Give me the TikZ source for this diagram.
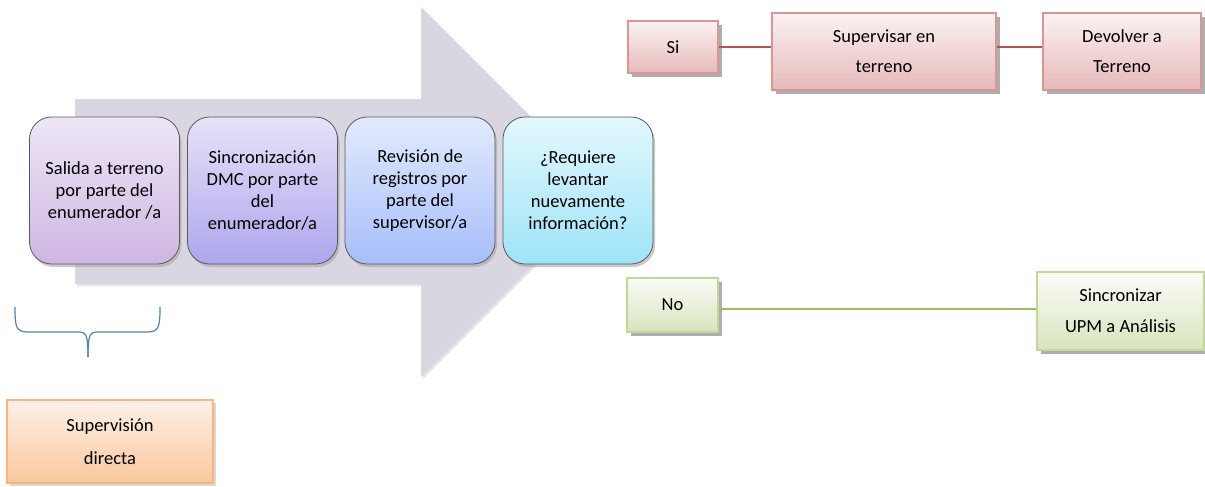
\documentclass[tikz,border=0pt]{standalone}
\usepackage{fontspec}
\setmainfont{Carlito}
\usetikzlibrary{shadows}
\definecolor{arrowgrey}{HTML}{D9D6E2}
\definecolor{redln}{HTML}{C0504D}
\definecolor{greenln}{HTML}{9BBB59}
\definecolor{bluebr}{HTML}{4F81BD}
\definecolor{aTop}{HTML}{EEE6F6}\definecolor{aBot}{HTML}{CDB6E2}
\definecolor{bTop}{HTML}{E6E2F8}\definecolor{bBot}{HTML}{ADA6EC}
\definecolor{cTop}{HTML}{E2EAFC}\definecolor{cBot}{HTML}{A6BEFA}
\definecolor{dTop}{HTML}{E2F8FC}\definecolor{dBot}{HTML}{9EE4F8}
\definecolor{rDraw}{HTML}{D99694}\definecolor{rTop}{HTML}{FBF2F2}\definecolor{rBot}{HTML}{E6B9B8}
\definecolor{gDraw}{HTML}{C3D69B}\definecolor{gTop}{HTML}{FBFCF8}\definecolor{gBot}{HTML}{D7E4BD}
\definecolor{oDraw}{HTML}{F9B47C}\definecolor{oTop}{HTML}{FDF1E8}\definecolor{oBot}{HTML}{FAC79C}
\begin{document}
\begin{tikzpicture}[x=1pt,y=-1pt,
  font=\fontsize{18.5}{22}\selectfont,
  stepbox/.style={draw=black!65, line width=0.8pt, rounded corners=22pt, minimum width=150pt, minimum height=147pt, align=center,
    drop shadow={shadow xshift=2pt, shadow yshift=-3pt, fill=black!35, opacity=0.6}},
  redbox/.style={draw=rDraw, line width=1.5pt, top color=rTop, bottom color=rBot, align=center,
    drop shadow={shadow xshift=4pt, shadow yshift=-4pt, fill=black!45, opacity=0.7}, font=\fontsize{18.5}{30}\selectfont},
  greenbox/.style={draw=gDraw, line width=1.5pt, top color=gTop, bottom color=gBot, align=center,
    drop shadow={shadow xshift=4pt, shadow yshift=-4pt, fill=black!45, opacity=0.7}, font=\fontsize{18.5}{31}\selectfont},
  orangebox/.style={draw=oDraw, line width=1.8pt, top color=oTop, bottom color=oBot, align=center,
    drop shadow={shadow xshift=3pt, shadow yshift=-3pt, fill=black!25, opacity=0.6}, font=\fontsize{18.5}{33}\selectfont}
]
\useasboundingbox (0,0) rectangle (1205,487);
% big arrow
\fill[arrowgrey, drop shadow={shadow xshift=2pt, shadow yshift=-2pt, fill=black!20, opacity=0.5}]
  (75,99) -- (421,99) -- (421,7) -- (606,192) -- (421,377) -- (421,284) -- (75,284) -- cycle;
% step boxes
\node[stepbox, top color=aTop, bottom color=aBot] (s1) at (104.5,190.5)
  {Salida a terreno\\por parte del\\enumerador /a};
\node[stepbox, top color=bTop, bottom color=bBot] (s2) at (262.5,190.5)
  {Sincronización\\DMC por parte\\del\\enumerador/a};
\node[stepbox, top color=cTop, bottom color=cBot] (s3) at (420,190.5)
  {Revisión de\\registros por\\parte del\\supervisor/a};
\node[stepbox, top color=dTop, bottom color=dBot] (s4) at (578,190.5)
  {¿Requiere\\levantar\\nuevamente\\información?};
% Si branch
\node[redbox, minimum width=90pt, minimum height=52pt] (si) at (673,47) {Si};
\node[redbox, minimum width=224pt, minimum height=77pt] (sup) at (884,51.5) {Supervisar en\\terreno};
\node[redbox, minimum width=158pt, minimum height=77pt] (dev) at (1122,51.5) {Devolver a\\Terreno};
\draw[redln, line width=2.5pt] (si.east) -- (sup.west|-si.east);
\draw[redln, line width=2.5pt] (sup.east|-0,47) coordinate (r1) -- (dev.west|-0,47) coordinate (r2);
% No branch
\node[greenbox, minimum width=91pt, minimum height=54pt] (no) at (672.5,305) {No};
\node[greenbox, minimum width=167pt, minimum height=78pt] (sync) at (1120.5,311) {Sincronizar\\UPM a Análisis};
\draw[greenln, line width=2.5pt] (no.east|-0,309) coordinate (n1) -- (sync.west|-0,309) coordinate (n2);
% brace
\coordinate (bl) at (15,307);
\coordinate (br) at (160,307);
\coordinate (bm) at (88,357);
\draw[bluebr, line width=1.2pt] (bl) .. controls (15,327) and (16,332) .. (28,332) -- (78,332)
  .. controls (86,332) and (88,334) .. (bm);
\draw[bluebr, line width=1.2pt] (br) .. controls (160,327) and (159,332) .. (147,332) -- (98,332)
  .. controls (90,332) and (88,334) .. (bm);
% supervision directa
\node[orangebox, minimum width=206pt, minimum height=83pt] (sd) at (110,441.5) {Supervisión\\directa};
\end{tikzpicture}
\end{document}
